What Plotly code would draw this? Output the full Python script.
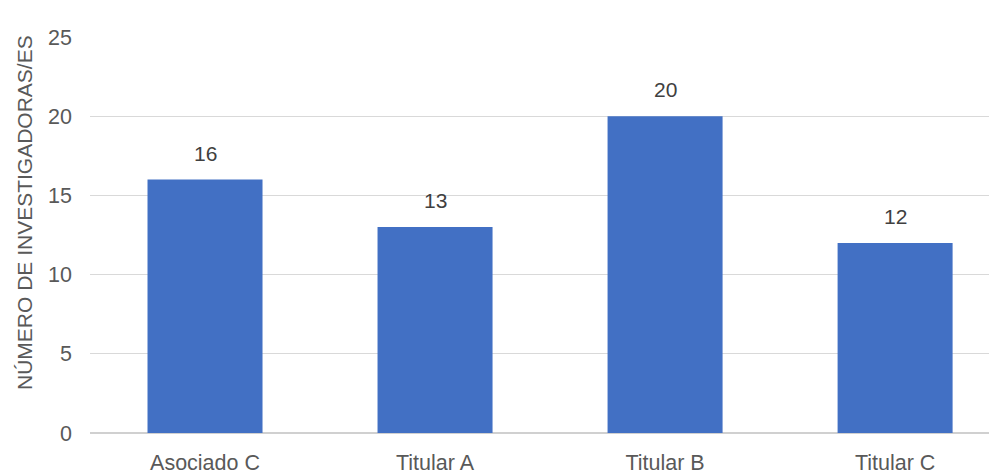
import plotly.graph_objects as go

categories = ["Asociado C", "Titular A", "Titular B", "Titular C"]
values = [16, 13, 20, 12]
y_ticks = [0, 5, 10, 15, 20, 25]
y_title = "NÚMERO DE INVESTIGADORAS/ES"

font_family = "Liberation Sans, Arial, sans-serif"

fig = go.Figure()
fig.add_trace(go.Bar(
    x=categories, y=values, width=0.5,
    marker=dict(color="#4270c4", line=dict(width=0)),
    hoverinfo="skip",
))

for c, v in zip(categories, values):
    fig.add_annotation(x=c, y=v, text=str(v), showarrow=False,
                       yanchor="bottom", yshift=13,
                       font=dict(size=21, color="#404040", family=font_family))

fig.add_annotation(xref="paper", yref="paper", x=-0.0728, y=0.558,
                   text=y_title, textangle=-90, showarrow=False,
                   xanchor="center", yanchor="middle",
                   font=dict(size=21, color="#595959", family=font_family))

fig.update_layout(
    width=989, height=467,
    margin=dict(l=82, r=0, t=29, b=42),
    paper_bgcolor="white", plot_bgcolor="white",
    showlegend=False,
    font=dict(family=font_family, color="#595959", size=21),
    xaxis=dict(range=[-0.5, 3.443], showgrid=False, showline=False,
               tickfont=dict(size=21.5, color="#595959"), ticks="",
               ticklabelstandoff=14),
    yaxis=dict(range=[0, 25], tickvals=y_ticks, showgrid=True,
               gridcolor="#d9d9d9", gridwidth=1.3, zeroline=True,
               zerolinecolor="#d0d0d0", zerolinewidth=1.5,
               tickfont=dict(size=21.5, color="#595959"),
               ticklabelstandoff=17),
)

fig.write_html("out.html")
